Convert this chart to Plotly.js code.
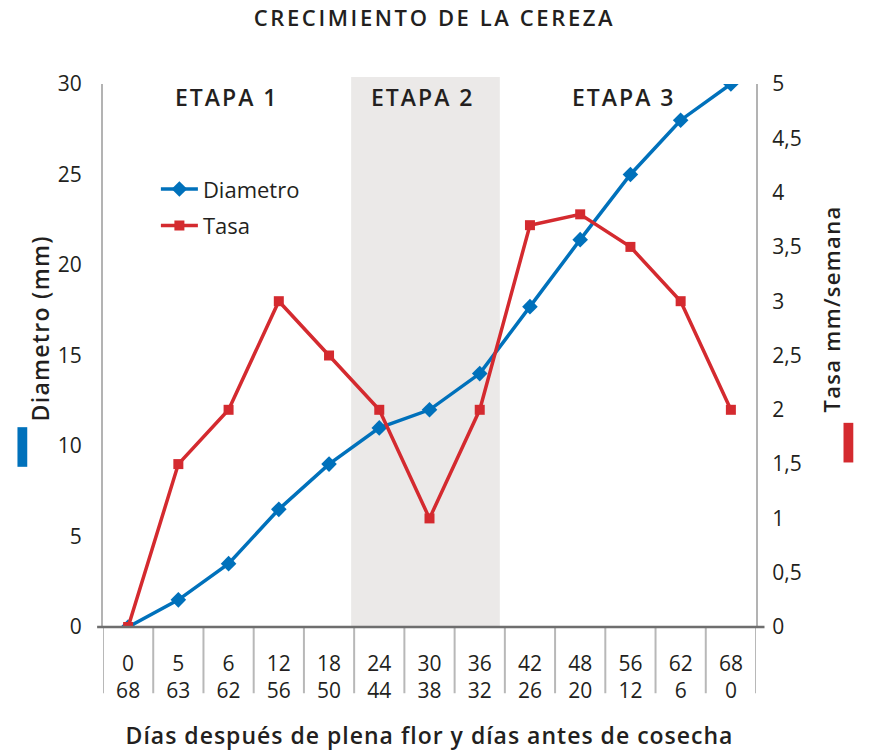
<!DOCTYPE html>
<html><head><meta charset="utf-8">
<script src="https://cdn.plot.ly/plotly-3.0.1.min.js"></script>
<style>html,body{margin:0;padding:0;background:#fff}#c{width:869px;height:753px}</style>
</head><body><div id="c"></div>
<script>
const diasDespues = ["0","5","6","12","18","24","30","36","42","48","56","62","68"];
const diasAntes   = ["68","63","62","56","50","44","38","32","26","20","12","6","0"];
const diametro = [0, 1.5, 3.5, 6.5, 9, 11, 12, 14, 17.7, 21.4, 25, 28, 30];
const tasa     = [0, 1.5, 2, 3, 2.5, 2, 1, 2, 3.7, 3.8, 3.5, 3, 2];
const etapas = ["ETAPA 1", "ETAPA 2", "ETAPA 3"];

const cats = diasDespues.map((d, i) => d + "<br>" + diasAntes[i]);
const FONT = "'Open Sans', 'Noto Sans', sans-serif";
const DARK = "#231f20";
const BLUE = "#0071bb";
const RED = "#d42a2f";

const traces = [
  {x: cats, y: diametro, name: "Diametro", type: "scatter", mode: "lines+markers",
   line: {color: BLUE, width: 3.5}, marker: {symbol: "diamond", size: 12, color: BLUE},
   legendgroup: "a", yaxis: "y"},
  {x: cats, y: tasa, name: "Tasa", type: "scatter", mode: "lines+markers",
   line: {color: RED, width: 3.5}, marker: {symbol: "square", size: 10, color: RED},
   legendgroup: "b", yaxis: "y2"}
];

const shapes = [
  {type: "rect", xref: "x", yref: "paper", x0: 4.44, x1: 7.4, y0: 0, y1: 1.013,
   fillcolor: "#ebe9e8", line: {width: 0}, layer: "below"}
];
for (let i = 0; i <= cats.length; i++) {
  shapes.push({type: "line", xref: "x", yref: "paper", x0: i - 0.5, x1: i - 0.5,
    y0: 0, y1: -0.122, line: {color: "#b8b8b8", width: 2}});
}
shapes.push({type: "line", xref: "paper", yref: "paper", x0: -0.009, x1: 1.013, y0: 0, y1: 0,
  line: {color: "#6e6e6e", width: 2.5}});
shapes.push({type: "rect", xref: "paper", yref: "paper", x0: -0.131, x1: -0.116, y0: 0.295, y1: 0.368,
  fillcolor: BLUE, line: {width: 0}});
shapes.push({type: "rect", xref: "paper", yref: "paper", x0: 1.134, x1: 1.149, y0: 0.303, y1: 0.376,
  fillcolor: RED, line: {width: 0}});

const etapaX = [1.96, 5.88, 9.88];
const annotations = etapas.map((t, i) => ({
  text: t, x: etapaX[i], xref: "x", y: 0.976, yref: "paper",
  showarrow: false, font: {family: FONT, size: 23, weight: 600, color: DARK}, yanchor: "middle"
}));
annotations.push({text: "Diametro (mm)", xref: "paper", yref: "paper", x: -0.123, y: 0.55,
  textangle: -90, showarrow: false, font: {family: FONT, size: 23, weight: 600, color: DARK}});
annotations.push({text: "Tasa mm/semana", xref: "paper", yref: "paper", x: 1.141, y: 0.585,
  textangle: -90, showarrow: false, font: {family: FONT, size: 22, weight: 600, color: DARK}});

const layout = {
  width: 869, height: 753,
  margin: {l: 103, r: 113, t: 84, b: 126},
  paper_bgcolor: "#fff", plot_bgcolor: "rgba(0,0,0,0)",
  separators: ",.",
  font: {family: FONT, size: 21, color: DARK},
  title: {text: "CRECIMIENTO DE LA CEREZA", x: 0.5, xanchor: "center", y: 0.976, yanchor: "middle",
          font: {family: FONT, size: 22, weight: 600, color: DARK}},
  showlegend: true,
  legend: {x: 0.081, y: 0.845, xanchor: "left", yanchor: "top", bgcolor: "rgba(0,0,0,0)",
           font: {family: FONT, size: 22, color: DARK}, tracegroupgap: 5, itemwidth: 37},
  xaxis: {type: "category", range: [-0.5, 12.5], showgrid: false, zeroline: false,
          showline: false, ticks: "", ticklabelstandoff: 22, tickfont: {size: 21, color: DARK},
          title: {text: "Días después de plena flor y días antes de cosecha",
                  font: {size: 23, weight: 600, color: DARK}, standoff: 24}},
  yaxis: {range: [0, 30], dtick: 5, showgrid: false, zeroline: false, showline: true,
          linecolor: "#b3b3b3", linewidth: 2, ticks: "", ticklabelstandoff: 15,
          tickfont: {size: 21, color: DARK}},
  yaxis2: {range: [0, 5], dtick: 0.5, overlaying: "y", side: "right", showgrid: false,
           zeroline: false, showline: true, linecolor: "#b3b3b3", linewidth: 2, ticks: "",
           ticklabelstandoff: 10, tickfont: {size: 21, color: DARK}},
  shapes: shapes,
  annotations: annotations
};

Plotly.newPlot("c", traces, layout, {displayModeBar: false, staticPlot: true}).then(gd => {
  gd.querySelectorAll(".gtitle").forEach(el => { el.style.letterSpacing = "2.6px"; });
  gd.querySelectorAll(".xtitle").forEach(el => { el.style.letterSpacing = "1px"; });
  gd.querySelectorAll(".annotation-text").forEach(el => {
    el.style.letterSpacing = el.textContent.indexOf("ETAPA") === 0 ? "2px" : "1.3px";
  });
});
</script></body></html>
